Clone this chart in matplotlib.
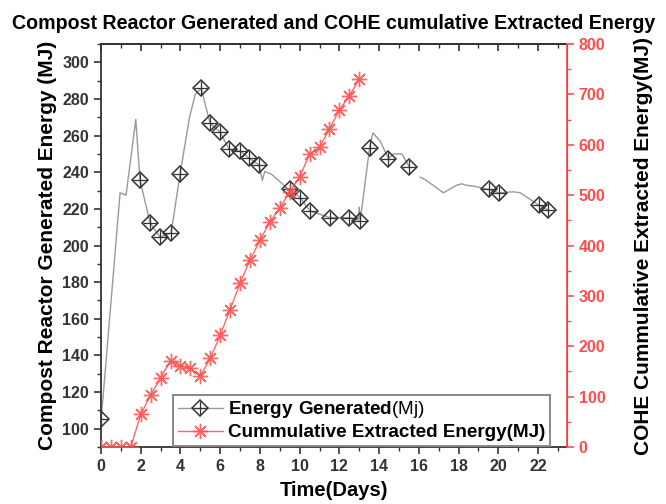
import numpy as np
import matplotlib
matplotlib.use("Agg")
import matplotlib.pyplot as plt
from matplotlib.lines import Line2D
from matplotlib.ticker import MultipleLocator

plt.rcParams['font.family'] = ['Liberation Sans', 'DejaVu Sans']
plt.rcParams['mathtext.fontset'] = 'custom'
plt.rcParams['mathtext.rm'] = 'Liberation Sans'
plt.rcParams['mathtext.bf'] = 'Liberation Sans:bold'

# compost reactor generated energy (MJ), gray line; NaN = gap in the trace
gen_days = [0.0, 0.1, 0.96, 1.26, 1.75, 1.96, 2.47, 2.97, 3.53, 3.98, 4.45, 4.74,
            5.04, 5.49, 5.99, 6.45, 7.0, 7.46, 7.96, 8.12, 8.25, 8.6, 9.35, 9.52,
            10.03, 10.53, 11.54, 12.5, 12.95, 13.0, 13.05, 13.52, 13.69, 14.06,
            14.47, 14.73, 15.15, 15.3, 15.53, 15.8, 16.07, 16.32, 17.24, 17.92,
            18.17, 18.34, 18.76, 19.51, 20.02, 20.77, 21.11, 22.03, 22.53]
gen_mj = [105.5, 117, 228.8, 227.5, 268.8, 235.7, 212.3, 204.6, 206.8, 239, 269.7, 282.4,
          285.8, 266.8, 261.9, 252.6, 251.5, 247.7, 243.9, 235.5, 240.5, 238.8, 231.5, 230.6,
          226, 218.8, 215.2, 215.2, 214, 221, 213.4, 253.3, 261.5, 256.8,
          247.5, 250, 250, 247, 242.8, np.nan, 237.3, 236, 228.8, 233,
          233.7, 233, 232.4, 230.6, 228.8, 229.3, 228.8, 222.1, 219.2]
# which points carry the diamond markers
gen_marked = [0, 5, 6, 7, 8, 9, 12, 13, 14, 15, 16, 17, 18, 23, 24, 25, 26, 27,
              30, 31, 34, 38, 47, 48, 51, 52]

# COHE cumulative extracted energy (MJ)
ext_days = [0, 0.5, 1.0, 1.5, 2.0, 2.5, 3.0, 3.5, 4.0, 4.5, 5.0, 5.5, 6.0, 6.5,
            7.0, 7.5, 8.0, 8.5, 9.0, 9.5, 10.0, 10.5, 11.0, 11.5, 12.0, 12.5, 13.0]
ext_mj = [0, 0, 0, 0, 65, 103, 138, 171, 161, 156, 141, 176, 222, 273,
          325, 371, 410, 447, 474, 507, 536, 581, 595, 631, 669, 697, 730]

red = '#ff4d4d'
dark = '#333333'
gray = '#999999'

fig = plt.figure(figsize=(6.66, 5.04), dpi=100)
ax = fig.add_axes([0.1517, 0.113, 0.6993, 0.7997])

ax.plot(gen_days, gen_mj, color=gray, lw=1.0, zorder=2)
ax.plot(np.array(gen_days)[gen_marked], np.array(gen_mj)[gen_marked], ls='none',
        marker='D', ms=8, mfc='none', mec=dark, mew=1.1, zorder=3)
ax.plot(np.array(gen_days)[gen_marked], np.array(gen_mj)[gen_marked], ls='none',
        marker='+', ms=10.5, mec=dark, mew=0.9, zorder=3)

ax.set_xlim(0, 23.45)
ax.set_ylim(90, 310)
ax.xaxis.set_major_locator(MultipleLocator(2))
ax.xaxis.set_minor_locator(MultipleLocator(1))
ax.yaxis.set_major_locator(MultipleLocator(20))
ax.yaxis.set_minor_locator(MultipleLocator(10))
ax.tick_params(axis='both', which='major', direction='out', length=5, width=1.2,
               labelsize=11.5, colors=dark)
ax.tick_params(axis='both', which='minor', direction='out', length=3, width=1.0, colors=dark)
for lab in ax.get_xticklabels() + ax.get_yticklabels():
    lab.set_fontweight('bold')
for s in ['left', 'bottom', 'top']:
    ax.spines[s].set_color(dark)
    ax.spines[s].set_linewidth(1.3)

top = ax.secondary_xaxis('top')
top.xaxis.set_major_locator(MultipleLocator(2))
top.xaxis.set_minor_locator(MultipleLocator(1))
top.tick_params(which='major', direction='in', length=5, width=1.2, colors=dark, labeltop=False)
top.tick_params(which='minor', direction='in', length=3, width=1.0, colors=dark)
top.spines['top'].set_color(dark)
top.spines['top'].set_linewidth(1.3)

ax.set_xlabel('Time(Days)', fontsize=14.5, fontweight='bold', labelpad=5)
ax.set_ylabel('Compost Reactor Generated Energy (MJ)', fontsize=15, fontweight='bold',
              labelpad=4)
ax.set_title('Compost Reactor Generated and COHE cumulative Extracted Energy',
             fontsize=14.1, fontweight='bold', pad=11)

ax2 = ax.twinx()
ax2.plot(ext_days, ext_mj, color=red, lw=1.0, marker=(8, 2, 0), ms=11, mec=red, mew=1.0,
         alpha=0.85)
ax2.set_ylim(0, 800)
ax2.yaxis.set_major_locator(MultipleLocator(100))
ax2.yaxis.set_minor_locator(MultipleLocator(50))
ax2.tick_params(axis='y', which='major', direction='out', length=5, width=1.2,
                labelsize=11.5, colors=red)
ax2.tick_params(axis='y', which='minor', direction='out', length=3, width=1.0, colors=red)
for lab in ax2.get_yticklabels():
    lab.set_fontweight('bold')
ax2.spines['right'].set_color(red)
ax2.spines['right'].set_linewidth(1.3)
for s in ['left', 'bottom', 'top']:
    ax2.spines[s].set_visible(False)
ax2.set_ylabel('COHE Cummulative Extracted Energy(MJ)', fontsize=15, fontweight='bold',
               labelpad=21, color='black')

h1 = (Line2D([], [], color=gray, lw=1.0, marker='D', ms=8, mfc='none', mec=dark, mew=1.1),
      Line2D([], [], ls='none', marker='+', ms=10.5, mec=dark, mew=0.9))
h2 = Line2D([], [], color=red, lw=1.0, marker=(8, 2, 0), ms=11, mec=red, mew=1.0, alpha=0.85)
leg = ax2.legend([h1, h2], [r'$\mathbf{Energy\ Generated}$(Mj)', 'Cummulative Extracted Energy(MJ)'],
                 loc='lower left', bbox_to_anchor=(173 / 666, 1 - 446 / 504),
                 bbox_transform=fig.transFigure, borderaxespad=0, fancybox=False,
                 edgecolor='#888888', framealpha=1, fontsize=13.6, handlelength=2.4,
                 borderpad=0.25, labelspacing=0.2, handletextpad=0.25)
leg.get_frame().set_linewidth(1.4)
leg.get_texts()[1].set_fontweight('bold')

fig.savefig('out.png', dpi=100)
